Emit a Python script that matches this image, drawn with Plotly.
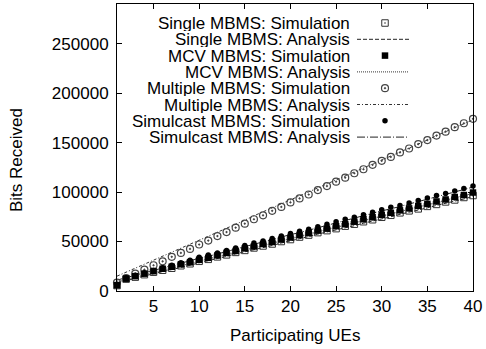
import plotly.graph_objects as go

ues = list(range(1, 41))

single_sim = [5500, 12000, 14000, 16500, 19000, 21000, 23000, 25500, 27500, 30000,
              32000, 34500, 36500, 39000, 41000, 43500, 45500, 47500, 50000, 52000,
              54500, 56500, 59000, 61000, 63000, 65500, 67500, 70000, 72000, 74500,
              76500, 79000, 81000, 83000, 85500, 87500, 90000, 92000, 94500, 96500]
single_ana = [8000, 10500, 13000, 15000, 17500, 19500, 21500, 24000, 26000, 28500,
              30500, 33000, 35000, 37500, 39500, 42000, 44000, 46000, 48500, 50500,
              53000, 55000, 57500, 59500, 62000, 64000, 66000, 68500, 70500, 73000,
              75000, 77500, 79500, 82000, 84000, 86500, 88500, 90500, 93000, 95500]
mcv_sim = [5800, 12500, 15000, 17500, 20000, 22500, 24500, 27000, 29000, 31500,
           33500, 36000, 38500, 40500, 43000, 45000, 47500, 49500, 52000, 54000,
           56500, 58500, 61000, 63000, 65500, 67500, 70000, 72500, 74500, 77000,
           79000, 81500, 83500, 86000, 88000, 90500, 92500, 95000, 97000, 99500]
mcv_ana = [9000, 11500, 14000, 16500, 18500, 21000, 23000, 25500, 27500, 30000,
           32500, 34500, 37000, 39000, 41500, 43500, 46000, 48500, 50500, 53000,
           55000, 57500, 59500, 62000, 64500, 66500, 69000, 71000, 73500, 75500,
           78000, 80500, 82500, 85000, 87000, 89500, 91500, 94000, 96500, 98500]
multiple_sim = [8500, 13000, 17500, 21500, 26000, 30000, 34500, 38500, 42500, 47000,
                51000, 55500, 59500, 64000, 68000, 72500, 76500, 81000, 85000, 89500,
                93500, 97500, 102000, 106000, 110500, 114500, 119000, 123000, 127500, 131500,
                135500, 140000, 144000, 148500, 152500, 157000, 161000, 165500, 169500, 174000]
multiple_ana = [15000, 19000, 23000, 27000, 31000, 35500, 39500, 43500, 47500, 51500,
                55500, 59500, 63500, 67500, 71500, 76000, 80000, 84000, 88000, 92000,
                96000, 100000, 104000, 108000, 112000, 116500, 120500, 124500, 128500, 132500,
                136500, 140500, 144500, 148500, 152500, 157000, 161000, 165000, 169000, 173000]
simulcast_sim = [6000, 13500, 16000, 18500, 21000, 23500, 26000, 28500, 31000, 34000,
                 36500, 38500, 41000, 43500, 46000, 48500, 50500, 53000, 55500, 58000,
                 60500, 62500, 65000, 67500, 70000, 72500, 74500, 77000, 79500, 82000,
                 84500, 86500, 89000, 91500, 94000, 96500, 98500, 101000, 103500, 106000]
simulcast_ana = [11000, 13500, 16000, 18500, 21000, 23000, 25500, 28000, 30500, 33000,
                 35000, 37500, 40000, 42500, 45000, 47000, 49500, 52000, 54500, 57000,
                 59000, 61500, 64000, 66500, 69000, 71000, 73500, 76000, 78500, 81000,
                 83000, 85500, 88000, 90500, 93000, 95000, 97500, 100000, 102500, 105000]

legend_labels = ["Single MBMS: Simulation", "Single MBMS: Analysis",
                 "MCV MBMS: Simulation", "MCV MBMS: Analysis",
                 "Multiple MBMS: Simulation", "Multiple MBMS: Analysis",
                 "Simulcast MBMS: Simulation", "Simulcast MBMS: Analysis"]

x_ticks = [5, 10, 15, 20, 25, 30, 35, 40]
y_ticks = [0, 50000, 100000, 150000, 200000, 250000]
y_tick_labels = [str(v) for v in y_ticks]

FONT = "Liberation Sans, Arial, sans-serif"
FS = 17

m_single = dict(symbol="square-open-dot", size=6.5, color="#333", line=dict(width=1, color="#333"))
m_mcv = dict(symbol="square", size=6.5, color="black")
m_mult = dict(symbol="circle-open-dot", size=7, color="#444", line=dict(width=1.2, color="#444"))
m_simul = dict(symbol="circle", size=5.5, color="black")

l_single = dict(color="#222", width=1, dash="4px,2px")
l_mcv = dict(color="#333", width=1, dash="1px,1px")
l_mult = dict(color="#333", width=1, dash="3px,2px,1px,2px")
l_simul = dict(color="#222", width=1, dash="8px,2px,1px,2px")

fig = go.Figure()
series = [
    (single_ana, "lines", None, l_single),
    (mcv_ana, "lines", None, l_mcv),
    (multiple_ana, "lines", None, l_mult),
    (simulcast_ana, "lines", None, l_simul),
    (multiple_sim, "markers", m_mult, None),
    (single_sim, "markers", m_single, None),
    (mcv_sim, "markers", m_mcv, None),
    (simulcast_sim, "markers", m_simul, None),
]
for ys, mode, mk, ln in series:
    kw = dict(x=ues, y=ys, mode=mode, showlegend=False, hoverinfo="skip", cliponaxis=False)
    if mk:
        kw["marker"] = mk
    if ln:
        kw["line"] = ln
    fig.add_trace(go.Scatter(**kw))

# plot area in pixels
W, H = 486, 349
L, R, T, B = 117, 473, 4, 291
def px_x(p):
    return (p - L) / (R - L)
def px_y(p):
    return (B - p) / (B - T)

# custom legend (text right-aligned, sample on the right) as in the original
row0, row_gap = 23, 16.3
text_right = 351
samp_x = 385
line_x0, line_x1 = 357, 409
annotations = []
shapes = []
marker_styles = [m_single, None, m_mcv, None, m_mult, None, m_simul, None]
line_styles = [None, l_single, None, l_mcv, None, l_mult, None, l_simul]
for i, lab in enumerate(legend_labels):
    yc = row0 + row_gap * i
    annotations.append(dict(text=lab, xref="paper", yref="paper", x=px_x(text_right), y=px_y(yc),
                            xanchor="right", yanchor="middle", showarrow=False,
                            height=16, valign="middle", borderpad=0,
                            font=dict(family=FONT, size=FS, color="black")))
    if line_styles[i]:
        shapes.append(dict(type="line", xref="paper", yref="paper",
                           x0=px_x(line_x0), x1=px_x(line_x1), y0=px_y(yc), y1=px_y(yc),
                           line=line_styles[i]))
    else:
        fig.add_trace(go.Scatter(x=[px_x(samp_x)], y=[px_y(yc)], mode="markers",
                                 marker=marker_styles[i], xaxis="x2", yaxis="y2",
                                 showlegend=False, hoverinfo="skip", cliponaxis=False))

# axis titles placed as annotations for exact positioning
annotations.append(dict(text="Participating UEs", xref="paper", yref="paper",
                        x=0.5, y=px_y(335), xanchor="center", yanchor="middle",
                        showarrow=False, font=dict(family=FONT, size=FS, color="black")))
annotations.append(dict(text="Bits Received", xref="paper", yref="paper",
                        x=px_x(16), y=px_y(160), xanchor="center", yanchor="middle",
                        textangle=-90, showarrow=False,
                        font=dict(family=FONT, size=FS, color="black")))

fig.update_layout(
    width=W, height=H,
    margin=dict(l=L, r=W - R, t=T, b=H - B, autoexpand=False),
    paper_bgcolor="white", plot_bgcolor="white",
    font=dict(family=FONT, size=FS, color="black"),
    showlegend=False,
    annotations=annotations,
    shapes=shapes,
    xaxis=dict(range=[1, 40], tickvals=x_ticks, ticks="inside", ticklen=5, tickcolor="black",
               showline=True, linecolor="black", linewidth=1, mirror="ticks", showgrid=False,
               zeroline=False, ticklabelstandoff=0, automargin=False),
    yaxis=dict(range=[0, 290000], tickvals=y_ticks, ticktext=y_tick_labels,
               ticks="inside", ticklen=5, tickcolor="black",
               showline=True, linecolor="black", linewidth=1, mirror="ticks", showgrid=False,
               zeroline=False, ticklabelstandoff=4, automargin=False),
    xaxis2=dict(range=[0, 1], overlaying="x", visible=False, fixedrange=True),
    yaxis2=dict(range=[0, 1], overlaying="y", visible=False, fixedrange=True),
)

fig.write_html("out.html", config={"displayModeBar": False},
               post_script="document.body.style.margin='0';document.body.style.padding='0';")
